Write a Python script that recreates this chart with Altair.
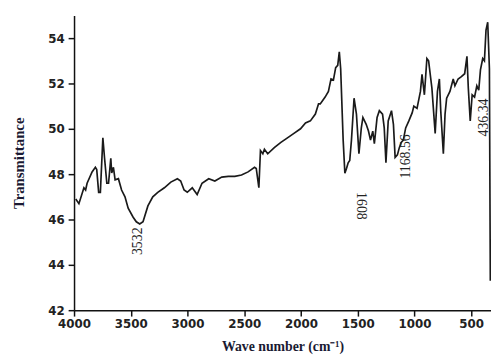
import altair as alt
import pandas as pd

wavenumber = [
    3985, 3957, 3913, 3898, 3885, 3841, 3812, 3800, 3783, 3768, 3746, 3731, 3711, 3696,
    3676, 3668, 3653, 3638, 3609, 3581, 3551, 3523, 3479, 3451, 3421, 3392, 3349, 3306,
    3262, 3204, 3147, 3089, 3060, 3030, 3002, 2958, 2915, 2872, 2813, 2759, 2698, 2640,
    2583, 2524, 2466, 2409, 2394, 2371, 2357, 2336, 2322, 2293, 2235, 2177, 2119, 2062,
    2004, 1960, 1917, 1873, 1845, 1830, 1787, 1758, 1735, 1714, 1694, 1676, 1662, 1650,
    1628, 1613, 1598, 1584, 1570, 1555, 1532, 1511, 1489, 1468, 1454, 1425, 1405, 1387,
    1367, 1353, 1329, 1309, 1281, 1266, 1251, 1231, 1202, 1185, 1170, 1150, 1133, 1116,
    1098, 1077, 1049, 1020, 1005, 977, 947, 933, 912, 890, 875, 846, 817, 797, 780, 768,
    745, 730, 716, 687, 658, 643, 615, 586, 557, 537, 525, 508, 491, 470, 450, 433, 418,
    398, 383, 369, 354, 339, 331
]
transmittance = [
    46.9, 46.7, 47.4, 47.3, 47.6, 48.1, 48.3, 48.2, 47.2, 47.2, 49.6, 48.7, 47.6, 47.6,
    48.7, 48.05, 48.3, 47.75, 47.8, 47.3, 47.0, 46.5, 46.1, 45.9, 45.8, 45.9, 46.6, 47.0,
    47.2, 47.4, 47.65, 47.8, 47.7, 47.3, 47.2, 47.4, 47.1, 47.6, 47.8, 47.7, 47.87, 47.9,
    47.9, 47.96, 48.1, 48.3, 48.25, 47.4, 49.04, 48.9, 49.1, 48.9, 49.17, 49.4, 49.6, 49.8,
    50.0, 50.26, 50.35, 50.65, 51.1, 51.1, 51.4, 51.65, 52.2, 52.15, 52.7, 52.8, 53.4, 52.65,
    49.5, 48.04, 48.26, 48.5, 48.6, 49.5, 51.35, 50.65, 48.9, 50.04, 50.5, 50.2, 49.9, 49.5,
    49.9, 49.35, 50.5, 50.8, 50.65, 50.04, 48.5, 50.35, 50.8, 50.2, 48.74, 48.85, 49.17, 49.4,
    49.5, 50.04, 50.35, 50.7, 51.0, 50.9, 51.65, 52.4, 51.5, 53.1, 53.0, 51.8, 49.8, 51.65,
    52.2, 50.8, 48.9, 50.65, 51.35, 51.65, 52.2, 51.9, 52.2, 52.3, 52.43, 53.2, 51.8, 50.35,
    51.5, 51.4, 51.9, 51.7, 52.6, 53.1, 53.0, 54.35, 54.7, 52.65, 43.3
]

peak_labels = ["3532", "1608", "1168.56", "436.34"]
peak_x = [3436, 1474, 1075, 385]
peak_y = [45.04, 46.6, 48.78, 50.5]
peak_angle = [270, 90, 270, 270]

x_ticks = [4000, 3750, 3500, 3250, 3000, 2750, 2500, 2250, 2000, 1750, 1500, 1250, 1000, 750, 500]
y_ticks = [42, 43, 44, 45, 46, 47, 48, 49, 50, 51, 52, 53, 54, 55]

spec_df = pd.DataFrame({"wn": wavenumber, "T": transmittance})
lab_df = pd.DataFrame({"wn": peak_x, "T": peak_y, "label": peak_labels, "angle": peak_angle})

xscale = alt.Scale(domain=[325, 4000], reverse=True, nice=False, zero=False)
yscale = alt.Scale(domain=[42, 55], nice=False, zero=False)

x_axis = alt.Axis(
    title="Wave number (cm⁻¹)", values=x_ticks, format="d",
    labelExpr="datum.value % 500 === 0 ? datum.label : ''",
    tickSize={"condition": {"test": "datum.value % 500 === 0", "value": 6}, "value": 3},
    grid=False, labelFlush=False, labelOverlap=False,
)
y_axis = alt.Axis(
    title="Transmittance", values=y_ticks, format="d",
    labelExpr="datum.value % 2 === 0 && datum.value < 55 ? datum.label : ''",
    tickSize={"condition": {"test": "datum.value % 2 === 0 && datum.value < 55", "value": 6}, "value": 3},
    grid=False, labelFlush=False, labelOverlap=False,
)

line = alt.Chart(spec_df).mark_line(color="#1a1a1a", strokeWidth=1.7, clip=True).encode(
    x=alt.X("wn:Q", scale=xscale, axis=x_axis),
    y=alt.Y("T:Q", scale=yscale, axis=y_axis),
    order=alt.Order("wn:Q", sort="descending"),
)

texts = []
for ang in [90, 270]:
    sub = lab_df[lab_df["angle"] == ang]
    texts.append(
        alt.Chart(sub).mark_text(
            angle=ang, font="Liberation Serif", fontSize=14, color="#222222",
            align="center", baseline="middle",
        ).encode(
            x=alt.X("wn:Q", scale=xscale),
            y=alt.Y("T:Q", scale=yscale),
            text="label:N",
        )
    )

chart = alt.layer(line, *texts).properties(
    width=423, height=299,
    autosize=alt.AutoSizeParams(type="none"),
    padding={"left": 67, "top": 5, "right": 0, "bottom": 50},
).configure_view(stroke=None).configure_axis(
    domainColor="#111111", domainWidth=1.5, tickColor="#111111", tickWidth=1.5,
    labelFont="DejaVu Sans", labelFontWeight="bold", labelFontSize=12, labelColor="#222222",
    titleFont="Liberation Serif", titleFontWeight="bold", titleColor="#1a1a33",
).configure_axisX(
    labelPadding=3, titlePadding=10, titleFontSize=14,
).configure_axisY(
    labelPadding=4, titlePadding=22, titleFontSize=15,
)

chart.save("out.html", embed_options={"renderer": "svg", "actions": False})
